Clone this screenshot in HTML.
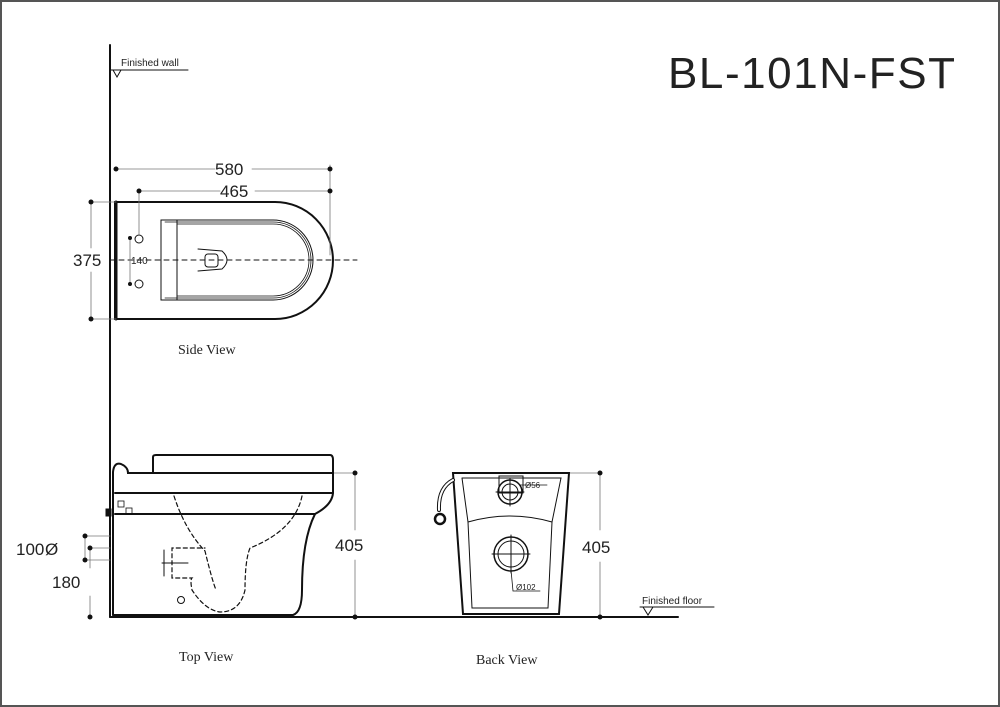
<!DOCTYPE html>
<html><head><style>
html,body{margin:0;padding:0;background:#fff}
svg{display:block}
text{font-family:"Liberation Sans",sans-serif;fill:#222}
.s{font-family:"Liberation Serif",serif}
</style></head><body>
<svg width="1000" height="707" viewBox="0 0 1000 707" xmlns="http://www.w3.org/2000/svg">
<rect x="1" y="1" width="998" height="705" fill="#fff" stroke="#555" stroke-width="2"/>
<g fill="none" stroke="#111" stroke-linecap="round">
<line x1="110" y1="45" x2="110" y2="617" stroke-width="2"/>
<line x1="110" y1="617" x2="678" y2="617" stroke-width="2"/>
<line x1="110" y1="70" x2="188" y2="70" stroke-width="1"/>
<path d="M113 70 L117 77 L121 70" stroke-width="1"/>
<line x1="640" y1="607" x2="714" y2="607" stroke-width="1"/>
<path d="M643 607 L648 615 L653 607" stroke-width="1"/>

<path d="M115 202 L275 202 A58 58.5 0 0 1 275 319 L115 319 Z" stroke-width="2"/>
<line x1="116" y1="202" x2="116" y2="319" stroke-width="3"/>
<path d="M161 220 L273 220 A40 40 0 0 1 273 300 L161 300 Z" stroke-width="1"/>
<path d="M165 222 L273 222 A38 38 0 0 1 273 298 L165 298" stroke-width="0.8"/>
<path d="M177 224 L273 224 A36 36 0 0 1 273 296 L177 296" stroke-width="0.8"/>
<line x1="177" y1="220" x2="177" y2="300" stroke-width="1"/>
<path d="M198 249 L222 251 Q232 260 222 269 L198 271" stroke-width="1"/>
<rect x="205" y="254" width="13" height="13" rx="3" stroke-width="1"/>
<line x1="110" y1="260" x2="357" y2="260" stroke-width="1" stroke-dasharray="5,4"/>
<circle cx="139" cy="239" r="4" stroke-width="1"/>
<circle cx="139" cy="284" r="4" stroke-width="1"/>
<g stroke="#777" stroke-width="0.8">
<line x1="116" y1="169" x2="215" y2="169"/><line x1="252" y1="169" x2="330" y2="169"/>
<line x1="139" y1="191" x2="220" y2="191"/><line x1="255" y1="191" x2="330" y2="191"/>
<line x1="330" y1="165" x2="330" y2="255"/>
<line x1="139" y1="191" x2="139" y2="234"/>
<line x1="91" y1="202" x2="116" y2="202"/><line x1="91" y1="319" x2="116" y2="319"/>
<line x1="91" y1="202" x2="91" y2="248"/><line x1="91" y1="272" x2="91" y2="319"/>
<line x1="130" y1="238" x2="130" y2="284"/>
<line x1="330" y1="473" x2="355" y2="473"/>
<line x1="355" y1="473" x2="355" y2="530"/><line x1="355" y1="560" x2="355" y2="617"/>
<line x1="85" y1="536" x2="110" y2="536"/><line x1="85" y1="560" x2="110" y2="560"/>
<line x1="85" y1="536" x2="85" y2="560"/>
<line x1="90" y1="548" x2="110" y2="548"/>
<line x1="90" y1="548" x2="90" y2="568"/><line x1="90" y1="596" x2="90" y2="617"/>
<line x1="560" y1="473" x2="600" y2="473"/>
<line x1="600" y1="473" x2="600" y2="530"/><line x1="600" y1="562" x2="600" y2="617"/>
</g>

<path d="M113 615 L113 472 Q114 462 121 464 Q128 467 128 473 L333 473" stroke-width="2"/>
<path d="M153 473 L153 457 Q153 455 156 455 L330 455 Q333 455 333 460 L333 493 Q332 505 315 514 Q302 540 302 590 Q302 612 293 615 L113 615" stroke-width="2"/>
<line x1="115" y1="493" x2="333" y2="493" stroke-width="2"/>
<line x1="115" y1="514" x2="315" y2="514" stroke-width="2"/>
<rect x="106" y="509" width="5" height="7" fill="#111"/>
<rect x="118" y="501" width="6" height="6" stroke-width="0.8"/>
<rect x="126" y="508" width="6" height="6" stroke-width="0.8"/>
<path d="M174 496 Q185 530 205 551 Q212 580 216 590 M302 496 Q295 530 250 548 Q245 560 245 590 Q240 612 220 612 Q205 610 192 590 Q190 580 192 578 L172 578 L172 548 L205 548" stroke-width="1.2" stroke-dasharray="4,3"/>
<line x1="162" y1="563" x2="188" y2="563" stroke-width="1"/>
<line x1="164" y1="550" x2="164" y2="576" stroke-width="1"/>
<circle cx="181" cy="600" r="3.5" stroke-width="1"/>

<path d="M453 473 L569 473 L559 614 L463 614 Z" stroke-width="2"/>
<path d="M462 478 L561 478 L552 522 M462 478 L468 522" stroke-width="1"/>
<path d="M468 522 Q510 510 552 522 L548 608 L472 608 Z" stroke-width="1"/>
<rect x="499" y="476" width="24" height="17" stroke-width="1"/>
<circle cx="510" cy="492" r="12" stroke-width="1.5"/>
<circle cx="510" cy="492" r="8" stroke-width="1"/>
<line x1="496" y1="492" x2="524" y2="492" stroke-width="1"/>
<line x1="510" y1="478" x2="510" y2="506" stroke-width="1"/>
<line x1="520" y1="485" x2="547" y2="485" stroke-width="0.8"/>
<circle cx="511" cy="554" r="17" stroke-width="1.5"/>
<circle cx="511" cy="554" r="13" stroke-width="1"/>
<line x1="492" y1="554" x2="530" y2="554" stroke-width="1"/>
<line x1="511" y1="535" x2="511" y2="573" stroke-width="1"/>
<path d="M511 570 L513 591 L540 591" stroke-width="0.8"/>
<path d="M453 480 Q438 488 439 510" stroke-width="4"/>
<path d="M453 480 Q438 488 439 510" stroke="#fff" stroke-width="2"/>
<circle cx="440" cy="519" r="5" stroke-width="2.5"/>
</g>
<g fill="#111">
<circle cx="116" cy="169" r="2.5"/><circle cx="330" cy="169" r="2.5"/>
<circle cx="139" cy="191" r="2.5"/><circle cx="330" cy="191" r="2.5"/>
<circle cx="91" cy="202" r="2.5"/><circle cx="91" cy="319" r="2.5"/>
<circle cx="130" cy="238" r="2"/><circle cx="130" cy="284" r="2"/>
<circle cx="355" cy="473" r="2.5"/><circle cx="355" cy="617" r="2.5"/>
<circle cx="85" cy="536" r="2.5"/><circle cx="85" cy="560" r="2.5"/>
<circle cx="90" cy="548" r="2.5"/><circle cx="90" cy="617" r="2.5"/>
<circle cx="600" cy="473" r="2.5"/><circle cx="600" cy="617" r="2.5"/>
</g>
<text x="668" y="88" font-size="44" textLength="287">BL-101N-FST</text>
<text x="121" y="66" font-size="10">Finished wall</text>
<text x="642" y="604" font-size="10">Finished floor</text>
<text x="215" y="175" font-size="17">580</text>
<text x="220" y="197" font-size="17">465</text>
<text x="73" y="266" font-size="17">375</text>
<text x="131" y="264" font-size="10">140</text>
<text x="335" y="551" font-size="17">405</text>
<text x="582" y="553" font-size="17">405</text>
<text x="16" y="555" font-size="17">100</text>
<text x="45" y="555" font-size="17">Ø</text>
<text x="52" y="588" font-size="17">180</text>
<text x="525" y="488" font-size="8">Ø56</text>
<text x="516" y="590" font-size="8">Ø102</text>
<text class="s" x="178" y="354" font-size="14">Side View</text>
<text class="s" x="179" y="661" font-size="14">Top View</text>
<text class="s" x="476" y="664" font-size="14">Back View</text>
</svg>
</body></html>
